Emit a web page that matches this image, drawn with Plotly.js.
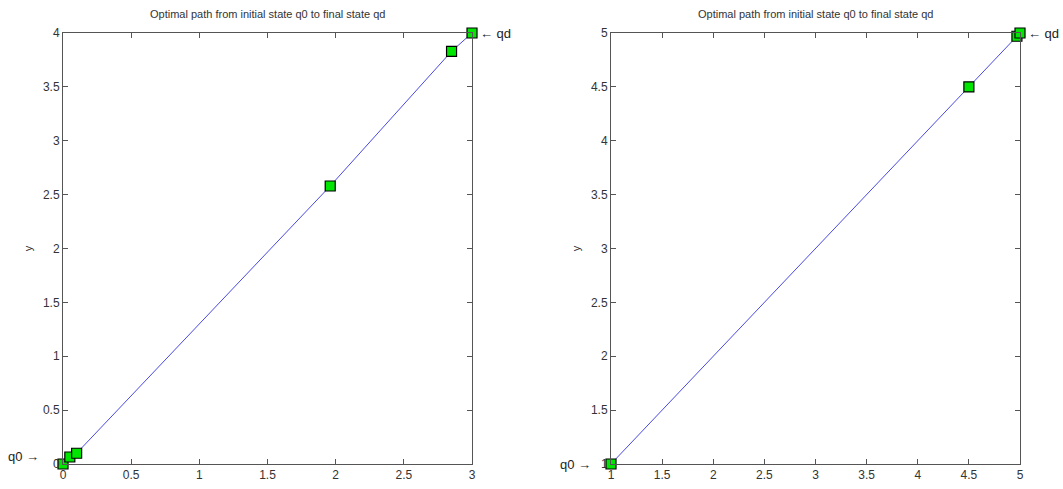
<!DOCTYPE html>
<html><head><meta charset="utf-8">
<script src="https://cdn.plot.ly/plotly-3.0.1.min.js"></script>
<style>html,body{margin:0;padding:0;background:#fff}#plot{width:1063px;height:489px}</style>
</head><body><div id="plot"></div>
<script>
// Left chart data
const leftPathX = [0.1, 1.96, 2.85, 3];
const leftPathY = [0.1, 2.58, 3.83, 4];
const leftNodesX = [0, 0.05, 0.1, 1.96, 2.85, 3];
const leftNodesY = [0, 0.065, 0.1, 2.58, 3.83, 4];
const leftTicksX = [0, 0.5, 1, 1.5, 2, 2.5, 3];
const leftTicksY = [0, 0.5, 1, 1.5, 2, 2.5, 3, 3.5, 4];
// Right chart data
const rightPathX = [1.03, 4.5, 4.97, 5];
const rightPathY = [1.03, 4.5, 4.97, 5];
const rightNodesX = [1, 4.5, 4.97, 5];
const rightNodesY = [1, 4.5, 4.97, 5];
const rightTicksX = [1, 1.5, 2, 2.5, 3, 3.5, 4, 4.5, 5];
const rightTicksY = [1, 1.5, 2, 2.5, 3, 3.5, 4, 4.5, 5];
const titleText = 'Optimal path from initial state q0 to final state qd';

const FONT = '"Liberation Sans Narrow", "Liberation Sans", Arial, sans-serif';
const lineStyle = {color: '#4a4ae0', width: 1};
const markerStyle = {symbol: 'square', size: 10, color: '#00e600', line: {color: '#000', width: 1.2}};

const traces = [
  {x: leftPathX, y: leftPathY, xaxis: 'x', yaxis: 'y', mode: 'lines', line: lineStyle, hoverinfo: 'skip'},
  {x: leftNodesX, y: leftNodesY, xaxis: 'x', yaxis: 'y', mode: 'markers', marker: markerStyle, cliponaxis: false},
  {x: rightPathX, y: rightPathY, xaxis: 'x2', yaxis: 'y2', mode: 'lines', line: lineStyle, hoverinfo: 'skip'},
  {x: rightNodesX, y: rightNodesY, xaxis: 'x2', yaxis: 'y2', mode: 'markers', marker: markerStyle, cliponaxis: false}
];

function ax(dom, range, ticks, anchor) {
  return {
    domain: dom, range: range, tickvals: ticks, ticktext: ticks.map(String),
    showgrid: false, zeroline: false, showline: true, linecolor: '#555', linewidth: 1,
    mirror: 'ticks', ticks: 'inside', ticklen: 5, tickcolor: '#555',
    tickfont: {family: FONT, size: 12, color: '#333'}, anchor: anchor, fixedrange: true
  };
}

const yDom = [1 - 464/489, 1 - 33/489];
const layout = {
  width: 1063, height: 489, margin: {l: 0, r: 0, t: 0, b: 0},
  paper_bgcolor: '#fff', plot_bgcolor: '#fff', showlegend: false,
  font: {family: FONT, color: '#333'},
  xaxis: ax([63/1063, 472/1063], [0, 3], leftTicksX, 'y'),
  yaxis: Object.assign(ax(yDom, [0, 4], leftTicksY, 'x'), {title: {text: 'y', font: {family: FONT, size: 11, color: '#333'}, standoff: 8}}),
  xaxis2: ax([611/1063, 1020/1063], [1, 5], rightTicksX, 'y2'),
  yaxis2: Object.assign(ax(yDom, [1, 5], rightTicksY, 'x2'), {title: {text: 'y', font: {family: FONT, size: 11, color: '#333'}, standoff: 8}}),
  annotations: [
    {text: titleText, xref: 'paper', yref: 'paper', x: (63+472)/2/1063, y: 1 - 14/489, xanchor: 'center', yanchor: 'middle', showarrow: false, font: {family: FONT, size: 11, color: '#333'}},
    {text: titleText, xref: 'paper', yref: 'paper', x: (611+1020)/2/1063, y: 1 - 14/489, xanchor: 'center', yanchor: 'middle', showarrow: false, font: {family: FONT, size: 11, color: '#333'}},
    {text: 'q0 →', xref: 'x', yref: 'y', x: 0, y: 0.07, xanchor: 'right', xshift: -22, showarrow: false, font: {family: FONT, size: 13, color: '#222'}},
    {text: '← qd', xref: 'x', yref: 'y', x: 3, y: 4, xanchor: 'left', xshift: 6, showarrow: false, font: {family: FONT, size: 13, color: '#222'}},
    {text: 'q0 →', xref: 'x2', yref: 'y2', x: 1, y: 1, xanchor: 'right', xshift: -18, showarrow: false, font: {family: FONT, size: 13, color: '#222'}},
    {text: '← qd', xref: 'x2', yref: 'y2', x: 5, y: 5, xanchor: 'left', xshift: 6, showarrow: false, font: {family: FONT, size: 13, color: '#222'}}
  ]
};

Plotly.newPlot('plot', traces, layout, {displayModeBar: false, staticPlot: true});
</script></body></html>
